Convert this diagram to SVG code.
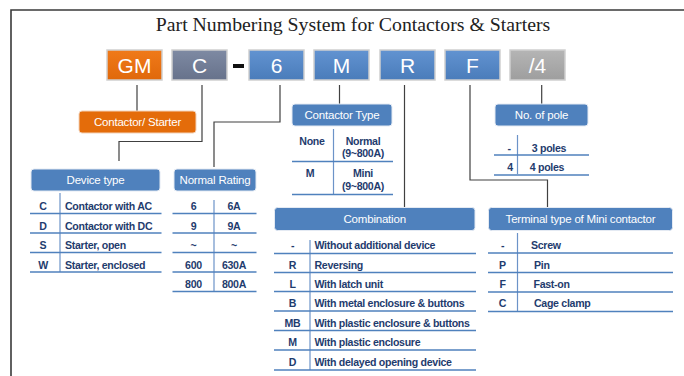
<svg xmlns="http://www.w3.org/2000/svg" width="684" height="376" viewBox="0 0 684 376">
<defs>
<linearGradient id="gOr" x1="0" y1="0" x2="0" y2="1"><stop offset="0" stop-color="#F07A1A"/><stop offset="1" stop-color="#E0680A"/></linearGradient>
<linearGradient id="gSl" x1="0" y1="0" x2="0" y2="1"><stop offset="0" stop-color="#7E8AA3"/><stop offset="1" stop-color="#67728B"/></linearGradient>
<linearGradient id="gBl" x1="0" y1="0" x2="0" y2="1"><stop offset="0" stop-color="#6293D1"/><stop offset="1" stop-color="#4A7CBA"/></linearGradient>
<linearGradient id="gGr" x1="0" y1="0" x2="0" y2="1"><stop offset="0" stop-color="#B5B5B5"/><stop offset="1" stop-color="#9E9E9E"/></linearGradient>
</defs>
<style>
.frame{fill:none;stroke:#3a3a3a;stroke-width:1.6}
.title{font-family:"Liberation Serif",serif;font-size:19.8px;fill:#222}
.code rect{stroke:#CFCFCF;stroke-width:1.5}
.code text{font-family:"Liberation Sans",sans-serif;font-size:21px;fill:#fff;text-anchor:middle}
.conn{fill:none;stroke:#404040;stroke-width:1.2}
.hdr rect{fill:#4F81BD;stroke:#E4EAF3;stroke-width:1}
.hdr text{font-family:"Liberation Sans",sans-serif;font-size:11.5px;fill:#fff;text-anchor:middle;letter-spacing:-0.2px}
.t{font-family:"Liberation Sans",sans-serif;font-size:10.6px;font-weight:bold;fill:#1F3C6E;letter-spacing:-0.3px}
.c{text-anchor:middle}
.hl{stroke:#4F81BD;stroke-width:1.5}
.vl{stroke:#6C93C8;stroke-width:1.2}
</style>
<path class="frame" d="M11,376 V10 H684"/>
<text class="title" x="353" y="31" text-anchor="middle">Part Numbering System for Contactors &amp; Starters</text>

<g id="code-GM" class="code"><rect x="107" y="50" width="55" height="30" fill="url(#gOr)"/><text x="134.5" y="73">GM</text></g>
<g id="code-C" class="code"><rect x="172" y="50" width="55" height="30" fill="url(#gSl)"/><text x="199.5" y="73">C</text></g>
<g id="dash"><rect x="233" y="64" width="11" height="4" fill="#111"/></g>
<g id="code-6" class="code"><rect x="249" y="50" width="55" height="30" fill="url(#gBl)"/><text x="276.5" y="73">6</text></g>
<g id="code-M" class="code"><rect x="314" y="50" width="55" height="30" fill="url(#gBl)"/><text x="341.5" y="73">M</text></g>
<g id="code-R" class="code"><rect x="380" y="50" width="55" height="30" fill="url(#gBl)"/><text x="407.5" y="73">R</text></g>
<g id="code-F" class="code"><rect x="445" y="50" width="55" height="30" fill="url(#gBl)"/><text x="472.5" y="73">F</text></g>
<g id="code-4" class="code"><rect x="510" y="50" width="55" height="30" fill="url(#gGr)"/><text x="537.5" y="73">/4</text></g>

<g id="connectors">
<path class="conn" d="M137,85 V111"/>
<path class="conn" d="M202,85 V141.5 H119 V161"/>
<path class="conn" d="M280,85 V122 H214 V167"/>
<path class="conn" d="M339.5,85 V104"/>
<path class="conn" d="M404.5,85 V207"/>
<path class="conn" d="M470,85 V180 H547.5 V207"/>
<path class="conn" d="M541.7,85 V104"/>
</g>

<g id="contactor-starter"><rect x="79" y="111" width="117" height="22" rx="3" fill="#E46C0A" stroke="#F3D2B8" stroke-width="1"/><text x="137.5" y="126" font-family="Liberation Sans,sans-serif" font-size="11.5" letter-spacing="-0.2" fill="#fff" text-anchor="middle">Contactor/ Starter</text></g>

<g id="device-type">
<g class="hdr"><rect x="31" y="169" width="129" height="22" rx="3"/><text x="95.5" y="184">Device type</text></g>
<line class="vl" x1="60" y1="193" x2="60" y2="272"/>
<line class="hl" x1="30" y1="213.5" x2="161.5" y2="213.5"/>
<line class="hl" x1="30" y1="233" x2="161.5" y2="233"/>
<line class="hl" x1="30" y1="252.5" x2="161.5" y2="252.5"/>
<line class="hl" x1="30" y1="272" x2="161.5" y2="272"/>
<text class="t c" x="43" y="210">C</text><text class="t" x="65" y="210">Contactor with AC</text>
<text class="t c" x="43" y="229.5">D</text><text class="t" x="65" y="229.5">Contactor with DC</text>
<text class="t c" x="43" y="249">S</text><text class="t" x="65" y="249">Starter, open</text>
<text class="t c" x="43" y="268.5">W</text><text class="t" x="65" y="268.5">Starter, enclosed</text>
</g>

<g id="normal-rating">
<g class="hdr"><rect x="174" y="169" width="82" height="22" rx="3"/><text x="215" y="184">Normal Rating</text></g>
<line class="vl" x1="214" y1="200" x2="214" y2="292"/>
<line class="hl" x1="172.5" y1="213.5" x2="256.5" y2="213.5"/>
<line class="hl" x1="172.5" y1="233" x2="256.5" y2="233"/>
<line class="hl" x1="172.5" y1="252.5" x2="256.5" y2="252.5"/>
<line class="hl" x1="172.5" y1="272" x2="256.5" y2="272"/>
<line class="hl" x1="172.5" y1="291.5" x2="256.5" y2="291.5"/>
<text class="t c" x="193.5" y="210">6</text><text class="t c" x="234" y="210">6A</text>
<text class="t c" x="193.5" y="229.5">9</text><text class="t c" x="234" y="229.5">9A</text>
<text class="t c" x="193.5" y="249">~</text><text class="t c" x="234" y="249">~</text>
<text class="t c" x="193.5" y="268.5">600</text><text class="t c" x="234" y="268.5">630A</text>
<text class="t c" x="193.5" y="288">800</text><text class="t c" x="234" y="288">800A</text>
</g>

<g id="contactor-type">
<g class="hdr"><rect x="292" y="104" width="100" height="22" rx="3"/><text x="342" y="119">Contactor Type</text></g>
<line class="vl" x1="333.5" y1="129" x2="333.5" y2="194"/>
<line class="hl" x1="292" y1="161.5" x2="393" y2="161.5"/>
<line class="hl" x1="292" y1="194.5" x2="393" y2="194.5"/>
<text class="t c" x="312" y="145">None</text>
<text class="t c" x="363" y="145">Normal</text><text class="t c" x="363" y="157">(9~800A)</text>
<text class="t c" x="310" y="177">M</text>
<text class="t c" x="363" y="177">Mini</text><text class="t c" x="363" y="190">(9~800A)</text>
</g>

<g id="no-of-pole">
<g class="hdr"><rect x="495" y="104" width="93" height="22" rx="3"/><text x="541.5" y="119">No. of pole</text></g>
<line class="vl" x1="517.5" y1="135" x2="517.5" y2="174"/>
<line class="hl" x1="494" y1="155" x2="589" y2="155"/>
<line class="hl" x1="494" y1="175" x2="589" y2="175"/>
<text class="t c" x="509" y="151.5">-</text><text class="t c" x="549" y="151.5">3 poles</text>
<text class="t c" x="510" y="171">4</text><text class="t c" x="547" y="171">4 poles</text>
</g>

<g id="combination">
<g class="hdr"><rect x="274.5" y="207.5" width="200.5" height="23" rx="3"/><text x="374.7" y="223">Combination</text></g>
<line class="vl" x1="310" y1="240" x2="310" y2="370"/>
<line class="hl" x1="274" y1="253.5" x2="476" y2="253.5"/>
<line class="hl" x1="274" y1="272.5" x2="476" y2="272.5"/>
<line class="hl" x1="274" y1="291.5" x2="476" y2="291.5"/>
<line class="hl" x1="274" y1="311" x2="476" y2="311"/>
<line class="hl" x1="274" y1="330.5" x2="476" y2="330.5"/>
<line class="hl" x1="274" y1="350" x2="476" y2="350"/>
<line class="hl" x1="274" y1="370" x2="476" y2="370"/>
<text class="t c" x="292.5" y="249">-</text><text class="t" x="314.5" y="249">Without additional device</text>
<text class="t c" x="292.5" y="268.5">R</text><text class="t" x="314.5" y="268.5">Reversing</text>
<text class="t c" x="292.5" y="288">L</text><text class="t" x="314.5" y="288">With latch unit</text>
<text class="t c" x="292.5" y="307">B</text><text class="t" x="314.5" y="307">With metal enclosure &amp; buttons</text>
<text class="t c" x="292.5" y="327">MB</text><text class="t" x="314.5" y="327">With plastic enclosure &amp; buttons</text>
<text class="t c" x="292.5" y="346">M</text><text class="t" x="314.5" y="346">With plastic enclosure</text>
<text class="t c" x="292.5" y="365.5">D</text><text class="t" x="314.5" y="365.5">With delayed opening device</text>
</g>

<g id="terminal-type">
<g class="hdr"><rect x="488.5" y="207.5" width="184" height="23" rx="3"/><text x="580.5" y="223">Terminal type of Mini contactor</text></g>
<line class="vl" x1="517.5" y1="233" x2="517.5" y2="311"/>
<line class="hl" x1="488" y1="253" x2="673" y2="253"/>
<line class="hl" x1="488" y1="272.5" x2="673" y2="272.5"/>
<line class="hl" x1="488" y1="292" x2="673" y2="292"/>
<line class="hl" x1="488" y1="311.5" x2="673" y2="311.5"/>
<text class="t c" x="502.5" y="249">-</text><text class="t" x="531" y="249">Screw</text>
<text class="t c" x="502.5" y="268.5">P</text><text class="t" x="534" y="268.5">Pin</text>
<text class="t c" x="502.5" y="288">F</text><text class="t" x="533.5" y="288">Fast-on</text>
<text class="t c" x="502.5" y="307">C</text><text class="t" x="534" y="307">Cage clamp</text>
</g>
</svg>
